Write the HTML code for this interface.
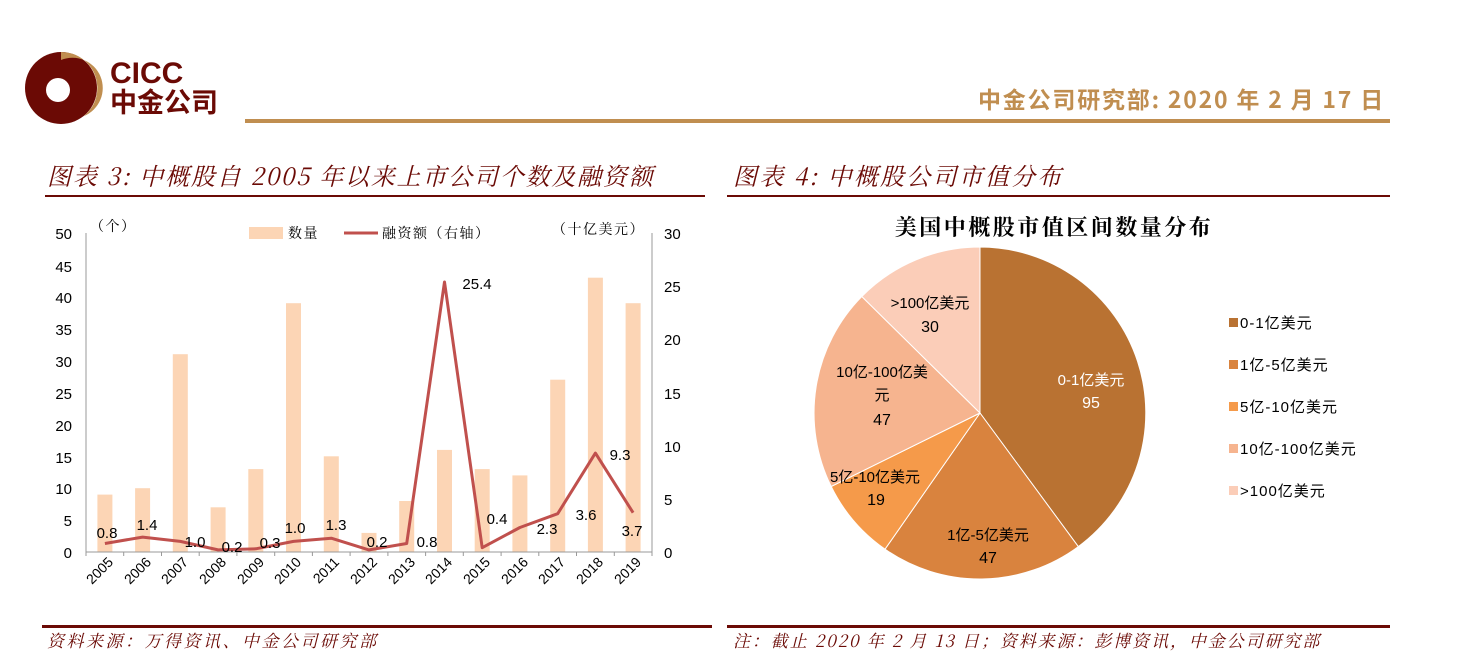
<!DOCTYPE html>
<html><head><meta charset="utf-8"><style>
body{margin:0;background:#fff;}
svg{display:block;font-family:"Liberation Sans","Noto Sans CJK SC",sans-serif;}
.k{font-family:"Noto Serif CJK SC","Noto Sans CJK SC",serif;}
</style></head><body>
<svg width="1471" height="672" viewBox="0 0 1471 672" xmlns="http://www.w3.org/2000/svg">
<!-- logo -->
<circle cx="61" cy="88" r="36" fill="#6B0A05"/>
<path d="M61 52 A36 36 0 0 1 84 116 A30 30 0 0 0 61 60 Z" fill="#C08E50"/>
<circle cx="58" cy="90" r="12" fill="#fff"/>
<text x="110" y="83" font-size="30" font-weight="bold" fill="#6B0A05">CICC</text>
<text x="110" y="112" font-size="27" font-weight="bold" fill="#6B0A05" font-family="Noto Sans CJK SC,sans-serif">中金公司</text>
<rect x="245" y="119" width="1145" height="4" fill="#C08E50"/>
<text x="1385" y="108" font-size="23" font-weight="bold" fill="#C08E50" text-anchor="end" letter-spacing="1.8" font-family="Noto Sans CJK SC,sans-serif">中金公司研究部: 2020 年 2 月 17 日</text>
<!-- titles -->
<text x="47" y="185" font-size="24" font-style="italic" fill="#6B0A05" letter-spacing="1.8" class="k">图表 3:  中概股自 2005 年以来上市公司个数及融资额</text>
<rect x="45" y="195" width="660" height="2" fill="#6B0A05"/>
<text x="733" y="185" font-size="24" font-style="italic" fill="#6B0A05" letter-spacing="2.2" class="k">图表 4:  中概股公司市值分布</text>
<rect x="727" y="195" width="663" height="2" fill="#6B0A05"/>
<!-- footers -->
<rect x="42" y="625" width="670" height="3" fill="#6B0A05"/>
<rect x="727" y="625" width="663" height="3" fill="#6B0A05"/>
<text x="47" y="647" font-size="17" font-style="italic" fill="#6B0A05" letter-spacing="2.5" class="k">资料来源：万得资讯、中金公司研究部</text>
<text x="733" y="647" font-size="17" font-style="italic" fill="#6B0A05" letter-spacing="1.9" class="k">注：截止 2020 年 2 月 13 日；资料来源：彭博资讯，中金公司研究部</text>
<!-- chart 1 bars -->
<g fill="#FCD5B5">
<rect x="97.4" y="494.6" width="15" height="57.4"/>
<rect x="135.1" y="488.2" width="15" height="63.8"/>
<rect x="172.8" y="354.2" width="15" height="197.8"/>
<rect x="210.6" y="507.3" width="15" height="44.7"/>
<rect x="248.3" y="469.1" width="15" height="82.9"/>
<rect x="286" y="303.2" width="15" height="248.8"/>
<rect x="323.8" y="456.3" width="15" height="95.7"/>
<rect x="361.5" y="532.9" width="15" height="19.1"/>
<rect x="399.2" y="501" width="15" height="51"/>
<rect x="437" y="449.9" width="15" height="102.1"/>
<rect x="474.7" y="469.1" width="15" height="82.9"/>
<rect x="512.4" y="475.4" width="15" height="76.6"/>
<rect x="550.2" y="379.7" width="15" height="172.3"/>
<rect x="587.9" y="277.7" width="15" height="274.3"/>
<rect x="625.6" y="303.2" width="15" height="248.8"/>
</g>
<!-- axes -->
<g stroke="#999" stroke-width="1" fill="none">
<line x1="86" y1="233" x2="86" y2="556"/>
<line x1="652" y1="233" x2="652" y2="556"/>
<line x1="86" y1="552" x2="652" y2="552"/>
<path d="M86 552v4M123.7 552v4M161.5 552v4M199.2 552v4M236.9 552v4M274.7 552v4M312.4 552v4M350.1 552v4M387.9 552v4M425.6 552v4M463.3 552v4M501.1 552v4M538.8 552v4M576.5 552v4M614.3 552v4"/>
</g>
<polyline fill="none" stroke="#C0504D" stroke-width="3" stroke-linejoin="round" points="104.9,543.5 142.6,537.1 180.3,541.4 218.1,549.9 255.8,548.8 293.5,541.4 331.3,538.2 369,549.9 406.7,543.5 444.5,282 482.2,547.7 519.9,527.5 557.7,513.7 595.4,453.1 633.1,512.7"/>
<g font-size="15" fill="#000" text-anchor="end">
<text x="72" y="239">50</text><text x="72" y="272">45</text><text x="72" y="303">40</text><text x="72" y="335">35</text><text x="72" y="367">30</text><text x="72" y="399">25</text><text x="72" y="431">20</text><text x="72" y="463">15</text><text x="72" y="494">10</text><text x="72" y="526">5</text><text x="72" y="558">0</text>
</g>
<g font-size="15" fill="#000">
<text x="664" y="239">30</text><text x="664" y="292">25</text><text x="664" y="345">20</text><text x="664" y="399">15</text><text x="664" y="452">10</text><text x="664" y="505">5</text><text x="664" y="558">0</text>
</g>
<g font-size="14" fill="#000" text-anchor="end">
<text transform="translate(114,563) rotate(-45)">2005</text>
<text transform="translate(152,563) rotate(-45)">2006</text>
<text transform="translate(189,563) rotate(-45)">2007</text>
<text transform="translate(227,563) rotate(-45)">2008</text>
<text transform="translate(265,563) rotate(-45)">2009</text>
<text transform="translate(302,563) rotate(-45)">2010</text>
<text transform="translate(340,563) rotate(-45)">2011</text>
<text transform="translate(378,563) rotate(-45)">2012</text>
<text transform="translate(416,563) rotate(-45)">2013</text>
<text transform="translate(453,563) rotate(-45)">2014</text>
<text transform="translate(491,563) rotate(-45)">2015</text>
<text transform="translate(529,563) rotate(-45)">2016</text>
<text transform="translate(566,563) rotate(-45)">2017</text>
<text transform="translate(604,563) rotate(-45)">2018</text>
<text transform="translate(642,563) rotate(-45)">2019</text>
</g>
<g font-size="15" fill="#000" text-anchor="middle">
<text x="107" y="538">0.8</text><text x="147" y="530">1.4</text><text x="195" y="547">1.0</text><text x="232" y="552">0.2</text><text x="270" y="548">0.3</text><text x="295" y="533">1.0</text><text x="336" y="530">1.3</text><text x="377" y="547">0.2</text><text x="427" y="547">0.8</text><text x="477" y="289">25.4</text><text x="497" y="524">0.4</text><text x="547" y="534">2.3</text><text x="586" y="520">3.6</text><text x="620" y="460">9.3</text><text x="632" y="536">3.7</text>
</g>
<g font-size="14" fill="#000" class="k" letter-spacing="1.5">
<text x="90" y="231">（个）</text>
<text x="552" y="234">（十亿美元）</text>
<rect x="249" y="227" width="34" height="12" fill="#FCD5B5"/>
<text x="288" y="238">数量</text>
<line x1="344" y1="233" x2="378" y2="233" stroke="#C0504D" stroke-width="3"/>
<text x="382" y="238">融资额（右轴）</text>
</g>
<!-- pie -->
<text x="1054" y="235" font-size="22" font-weight="bold" text-anchor="middle" letter-spacing="2.5" class="k">美国中概股市值区间数量分布</text>
<g stroke="#fff" stroke-width="1">
<path d="M980 413 L980 247 A166 166 0 0 1 1078.3 546.6 Z" fill="#B97232"/>
<path d="M980 413 L1078.3 546.6 A166 166 0 0 1 885 549.2 Z" fill="#D9833E"/>
<path d="M980 413 L885 549.2 A166 166 0 0 1 831.2 486.5 Z" fill="#F59A4A"/>
<path d="M980 413 L831.2 486.5 A166 166 0 0 1 861.8 296.5 Z" fill="#F6B48F"/>
<path d="M980 413 L861.8 296.5 A166 166 0 0 1 980 247 Z" fill="#FBCDB8"/>
</g>
<g font-size="15" text-anchor="middle" fill="#000">
<text x="1091" y="385" fill="#fff">0-1亿美元</text><text x="1091" y="408" fill="#fff" font-size="16">95</text>
<text x="988" y="540">1亿-5亿美元</text><text x="988" y="563" font-size="16">47</text>
<text x="875" y="482">5亿-10亿美元</text><text x="876" y="505" font-size="16">19</text>
<text x="882" y="377">10亿-100亿美</text><text x="882" y="400">元</text><text x="882" y="425" font-size="16">47</text>
<text x="930" y="308">&gt;100亿美元</text><text x="930" y="332" font-size="16">30</text>
</g>
<g font-size="15" fill="#000" letter-spacing="1">
<rect x="1229" y="318" width="9" height="9" fill="#B97232"/><text x="1240" y="328">0-1亿美元</text>
<rect x="1229" y="360" width="9" height="9" fill="#D9833E"/><text x="1240" y="370">1亿-5亿美元</text>
<rect x="1229" y="402" width="9" height="9" fill="#F59A4A"/><text x="1240" y="412">5亿-10亿美元</text>
<rect x="1229" y="444" width="9" height="9" fill="#F6B48F"/><text x="1240" y="454">10亿-100亿美元</text>
<rect x="1229" y="486" width="9" height="9" fill="#FBCDB8"/><text x="1240" y="496">&gt;100亿美元</text>
</g>
</svg>
</body></html>
